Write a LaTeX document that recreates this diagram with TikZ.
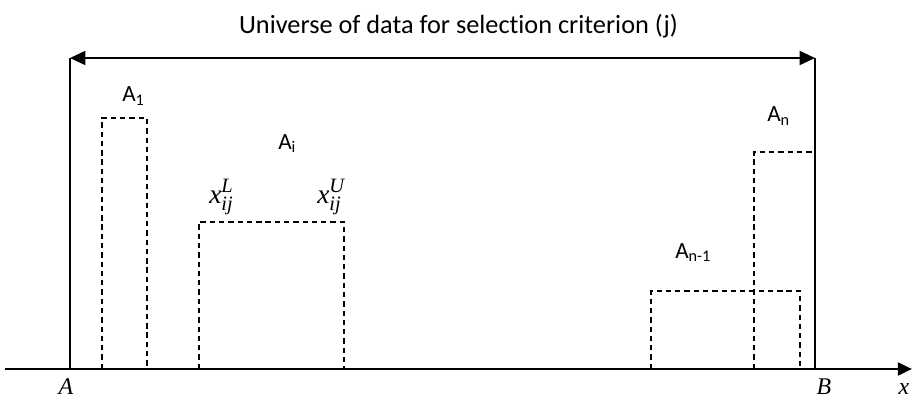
\documentclass[tikz,border=0pt]{standalone}
\usepackage{amsmath}
\usepackage{fontspec}
\setmainfont{Liberation Serif}
\newfontfamily\labelfont[Ligatures=NoCommon]{Carlito}
\usetikzlibrary{positioning, arrows.meta}
\newcommand{\bnd}[1]{$\textit{x}_{\text{\fontsize{14.5}{16}\selectfont\itshape ij}}^{\text{\fontsize{14.5}{16}\selectfont\itshape #1}}$}

\begin{document}
\begin{tikzpicture}[
      x=0.025cm, y=-0.025cm,
      ttl/.style={font=\labelfont\fontsize{18.7}{22}\selectfont, inner sep=0pt, anchor=base},
      lbl/.style={font=\labelfont\fontsize{16.5}{19}\selectfont, inner sep=0pt, anchor=base west},
      mlbl/.style={font=\fontsize{17}{20}\selectfont\itshape, inner sep=0pt, anchor=base},
      xlbl/.style={font=\fontsize{19.5}{22}\selectfont, inner sep=0pt, anchor=base west},
      axis/.style={line width=2pt, -{Triangle[length=10pt, width=9pt]}},
      bound/.style={line width=1pt},
      span/.style={line width=1.4pt, {Triangle[length=11pt, width=10pt]}-{Triangle[length=11pt, width=10pt]}},
      dbox/.style={line width=1pt, dash pattern=on 3.8pt off 2.8pt},
    ]
    \useasboundingbox (0,0) rectangle (912,400);

    % ── axis and bounds ──
    \coordinate (o) at (5,369);
    \coordinate (xe) at (912,369);
    \coordinate (pa) at (70,369);
    \coordinate (pb) at (815,369);
    \coordinate (ta) at (70,58);
    \coordinate (tb) at (815,58);
    \draw[axis] (o) -- (xe);
    \draw[bound] (pa) -- (ta);
    \draw[bound] (pb) -- (tb);
    \draw[span] (ta) -- (tb);

    \node[ttl] (title) at (458.5,34) {Universe of data for selection criterion (j)};
    \node[mlbl] (la) at (66,394) {A};
    \node[mlbl] (lb) at (824,394) {B};
    \node[mlbl] (lx) at (904,394) {x};

    % ── intervals ──
    \draw[dbox] (102,369) |- (147,118) -- (147,369);
    \draw[dbox] (199,369) |- (344,222) -- (344,369);
    \draw[dbox] (651,369) |- (800,291) -- (800,369);
    \draw[dbox] (754,369) |- (815,152);

    \node[lbl] (a1) at (122,102) {A\textsubscript{1}};
    \node[lbl] (ai) at (278,149) {A\textsubscript{i}};
    \node[lbl] (an1) at (675,258) {A\textsubscript{n-1}};
    \node[lbl] (an) at (767,122) {A\textsubscript{n}};

    \node[xlbl] (xl) at (209,203) {\bnd{L}};
    \node[xlbl] (xu) at (317,203) {\bnd{U}};
  \end{tikzpicture}
\end{document}
